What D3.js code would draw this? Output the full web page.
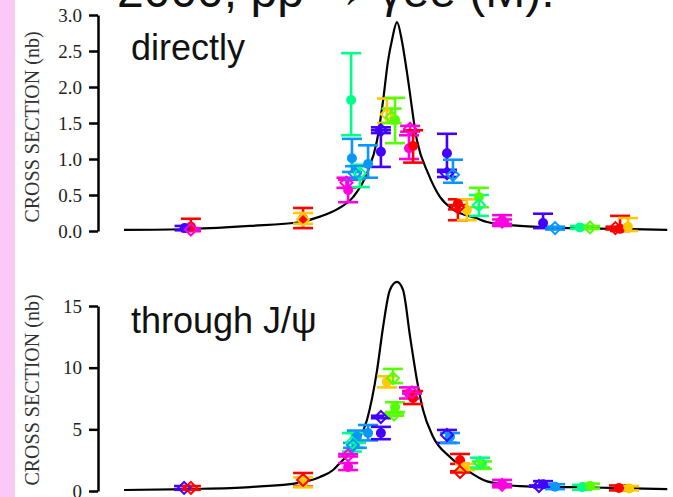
<!DOCTYPE html>
<html>
<head>
<meta charset="utf-8">
<script src="https://cdn.jsdelivr.net/npm/d3@7/dist/d3.min.js"></script>
<style>
  html, body { margin: 0; padding: 0; background: #fff; }
  svg { display: block; }
</style>
</head>
<body>
<svg id="chart" width="673" height="497"></svg>
<script>
// Series colours (one per data set)
const seriesColors = {
  red: "#ff0000",
  amber: "#ffc800",
  lime: "#55ff00",
  spring: "#00ff88",
  azure: "#0a96ff",
  violet: "#4200ff",
  magenta: "#ff00e0"
};

// Fitted resonance curves: [energy offset, cross section (nb)]
const directCurve = [
  [-10, 0.015], [-7.58, 0.028], [-5.38, 0.07], [-3.55, 0.125], [-2.82, 0.2],
  [-2.2, 0.3], [-1.61, 0.47], [-1.1, 0.8], [-0.73, 1.26], [-0.51, 1.81],
  [-0.33, 2.36], [-0.18, 2.66], [0, 2.9], [0.18, 2.64], [0.37, 2.19],
  [0.73, 1.26], [1.14, 0.8], [1.58, 0.47], [2.05, 0.3], [2.9, 0.18],
  [3.3, 0.125], [4.5, 0.07], [6.3, 0.04], [8.2, 0.03], [9.9, 0.015]
];
const jpsiCurve = [
  [-10, 0.08], [-7.58, 0.16], [-5.38, 0.32], [-3.55, 0.68], [-2.82, 1.14],
  [-2.34, 1.7], [-2.09, 2.27], [-1.47, 3.9], [-1.1, 5.76], [-0.73, 9.8],
  [-0.51, 13.3], [-0.26, 16.3], [0, 16.95], [0.22, 16.3], [0.48, 12.5],
  [0.73, 9.0], [0.95, 6.6], [1.32, 4.4], [1.94, 2.76], [2.56, 1.7],
  [3.3, 0.78], [4.5, 0.4], [6.3, 0.32], [8.2, 0.24], [9.9, 0.16]
];

// Measurements: [series, marker, energy offset, value, lower, upper]
const directPoints = [
  ["red", "circle", -7.55, 0.06, 0.0, 0.17],
  ["violet", "circle", -7.78, 0.04, 0.01, 0.07],
  ["magenta", "diamond", -7.55, 0.02, 0.0, 0.04],
  ["red", "circle", -3.44, 0.17, 0.04, 0.32],
  ["amber", "diamond", -3.44, 0.16, 0.10, 0.25],
  ["magenta", "circle", -1.79, 0.57, 0.40, 0.71],
  ["magenta", "diamond", -1.85, 0.67, 0.60, 0.74],
  ["spring", "circle", -1.68, 1.82, 1.33, 2.47],
  ["azure", "circle", -1.65, 1.01, 0.82, 1.28],
  ["spring", "diamond", -1.36, 0.80, 0.61, 0.92],
  ["azure", "diamond", -1.54, 0.80, 0.72, 0.90],
  ["azure", "circle", -1.06, 0.93, 0.74, 1.19],
  ["violet", "circle", -0.59, 1.10, 0.89, 1.40],
  ["violet", "diamond", -0.59, 1.40, 1.36, 1.44],
  ["amber", "diamond", -0.37, 1.62, 1.50, 1.84],
  ["lime", "circle", -0.07, 1.54, 1.22, 1.85],
  ["lime", "diamond", -0.2, 1.58, 1.50, 1.70],
  ["magenta", "circle", 0.44, 1.15, 1.00, 1.33],
  ["magenta", "diamond", 0.48, 1.42, 1.38, 1.46],
  ["red", "circle", 0.59, 1.18, 0.95, 1.40],
  ["violet", "circle", 1.83, 1.08, 0.82, 1.35],
  ["violet", "diamond", 1.83, 0.80, 0.75, 0.85],
  ["azure", "diamond", 2.05, 0.78, 0.67, 0.99],
  ["red", "circle", 2.23, 0.38, 0.15, 0.44],
  ["red", "diamond", 2.23, 0.33, 0.30, 0.36],
  ["amber", "circle", 2.56, 0.29, 0.15, 0.44],
  ["lime", "circle", 3.0, 0.47, 0.33, 0.60],
  ["spring", "diamond", 3.0, 0.36, 0.21, 0.50],
  ["magenta", "circle", 3.85, 0.15, 0.07, 0.22],
  ["magenta", "diamond", 3.85, 0.13, 0.10, 0.16],
  ["violet", "circle", 5.35, 0.11, 0.04, 0.24],
  ["azure", "diamond", 5.79, 0.04, 0.02, 0.06],
  ["spring", "circle", 6.7, 0.05, 0.03, 0.07],
  ["lime", "diamond", 7.07, 0.05, 0.03, 0.07],
  ["red", "circle", 8.17, 0.03, 0.0, 0.21],
  ["red", "diamond", 8.0, 0.04, 0.02, 0.06],
  ["amber", "circle", 8.46, 0.06, 0.0, 0.18]
];
const jpsiPoints = [
  ["violet", "diamond", -7.8, 0.25, 0.1, 0.4],
  ["red", "diamond", -7.55, 0.25, 0.1, 0.4],
  ["red", "diamond", -3.44, 0.9, 0.35, 1.46],
  ["amber", "circle", -3.44, 0.7, 0.3, 1.1],
  ["magenta", "circle", -1.79, 1.95, 1.7, 2.27],
  ["magenta", "diamond", -1.79, 2.9, 2.8, 3.0],
  ["spring", "diamond", -1.65, 3.9, 3.2, 4.7],
  ["azure", "diamond", -1.61, 3.7, 3.5, 3.9],
  ["spring", "circle", -1.5, 4.3, 3.9, 4.7],
  ["azure", "circle", -1.47, 4.4, 3.5, 4.9],
  ["azure", "circle", -1.06, 4.7, 4.1, 5.35],
  ["violet", "diamond", -0.59, 6.0, 5.9, 6.1],
  ["violet", "circle", -0.59, 4.7, 4.2, 5.2],
  ["amber", "circle", -0.37, 8.85, 8.4, 9.3],
  ["lime", "diamond", -0.15, 9.15, 8.75, 9.9],
  ["lime", "circle", -0.07, 6.8, 6.4, 7.2],
  ["lime", "diamond", -0.11, 6.2, 6.1, 6.3],
  ["magenta", "circle", 0.44, 7.9, 7.5, 8.4],
  ["magenta", "diamond", 0.55, 8.0, 7.9, 8.1],
  ["red", "circle", 0.59, 7.55, 7.05, 8.1],
  ["violet", "diamond", 1.83, 4.55, 3.9, 4.95],
  ["azure", "circle", 1.94, 4.4, 3.9, 4.7],
  ["red", "circle", 2.31, 2.5, 2.2, 3.0],
  ["red", "diamond", 2.31, 1.54, 1.5, 1.6],
  ["amber", "circle", 2.49, 1.95, 1.7, 2.2],
  ["spring", "diamond", 3.04, 2.3, 1.9, 2.7],
  ["lime", "circle", 3.11, 2.1, 1.8, 2.4],
  ["magenta", "circle", 3.85, 0.55, 0.3, 0.9],
  ["magenta", "diamond", 3.85, 0.5, 0.45, 0.55],
  ["violet", "circle", 5.35, 0.55, 0.3, 0.8],
  ["violet", "diamond", 5.2, 0.4, 0.35, 0.45],
  ["azure", "circle", 5.79, 0.35, 0.15, 0.55],
  ["spring", "circle", 6.78, 0.3, 0.1, 0.5],
  ["lime", "circle", 7.07, 0.4, 0.2, 0.6],
  ["red", "circle", 8.13, 0.25, 0.05, 0.45],
  ["amber", "circle", 8.5, 0.2, 0.05, 0.4]
];

// Axis ticks
const directTicks = [0, 0.5, 1.0, 1.5, 2.0, 2.5, 3.0];
const jpsiTicks = [0, 5, 10, 15];

const svg = d3.select("#chart");

// Left margin strip
svg.append("rect").attr("x", 0).attr("y", 0).attr("width", 15).attr("height", 497)
  .attr("fill", "#fbc9f6");

// Heading (runs off the top edge)
svg.append("text")
  .attr("x", 117).attr("y", 7)
  .attr("font-family", "Liberation Sans, Arial, sans-serif")
  .attr("font-size", 48)
  .attr("fill", "#111")
  .text("2000, pp → γee (M):");

const x = d3.scaleLinear().domain([-10, 10]).range([124, 670]);

function drawPanel(opts) {
  const y = d3.scaleLinear().domain(opts.domain).range(opts.range);
  const g = svg.append("g");

  const axis = d3.axisLeft(y)
    .tickValues(opts.ticks)
    .tickFormat(opts.format)
    .tickSize(9)
    .tickSizeOuter(0)
    .tickPadding(7);
  const ax = g.append("g").attr("transform", "translate(98,0)").call(axis);
  ax.select(".domain").attr("stroke", "#000").attr("stroke-width", 2.5);
  ax.selectAll(".tick line").attr("stroke", "#000").attr("stroke-width", 2.5);
  ax.selectAll(".tick text")
    .attr("font-family", "Liberation Serif, Times New Roman, serif")
    .attr("font-size", 19)
    .attr("fill", "#222");

  g.append("text")
    .attr("transform", `translate(39,${opts.labelY}) rotate(-90)`)
    .attr("text-anchor", "middle")
    .attr("font-family", "Liberation Serif, Times New Roman, serif")
    .attr("font-size", 20)
    .attr("fill", "#333")
    .text("CROSS SECTION (nb)");

  g.append("text")
    .attr("x", 131).attr("y", opts.titleY)
    .attr("font-family", "Liberation Sans, Arial, sans-serif")
    .attr("font-size", 36)
    .attr("fill", "#111")
    .text(opts.title);

  // Fitted curve
  const line = d3.line().x(d => x(d[0])).y(d => y(d[1])).curve(d3.curveMonotoneX);
  g.append("path").datum(opts.curve)
    .attr("d", line)
    .attr("fill", "none")
    .attr("stroke", "#000")
    .attr("stroke-width", 2.2);

  // Error bars
  const capHalf = 10;
  const bars = g.append("g").selectAll("g").data(opts.points).join("g")
    .attr("stroke", d => seriesColors[d[0]])
    .attr("stroke-width", 2.6)
    .attr("fill", "none");
  bars.append("line")
    .attr("x1", d => x(d[2])).attr("x2", d => x(d[2]))
    .attr("y1", d => y(d[4])).attr("y2", d => y(d[5]));
  bars.append("line")
    .attr("x1", d => x(d[2]) - capHalf).attr("x2", d => x(d[2]) + capHalf)
    .attr("y1", d => y(d[4])).attr("y2", d => y(d[4]));
  bars.append("line")
    .attr("x1", d => x(d[2]) - capHalf).attr("x2", d => x(d[2]) + capHalf)
    .attr("y1", d => y(d[5])).attr("y2", d => y(d[5]));

  // Markers
  const marks = g.append("g");
  marks.selectAll("circle").data(opts.points.filter(d => d[1] === "circle")).join("circle")
    .attr("cx", d => x(d[2])).attr("cy", d => y(d[3]))
    .attr("r", 5)
    .attr("fill", d => seriesColors[d[0]]);
  marks.selectAll("path").data(opts.points.filter(d => d[1] === "diamond")).join("path")
    .attr("d", d => {
      const cx = x(d[2]), cy = y(d[3]), s = 6;
      return `M${cx},${cy - s}L${cx + s},${cy}L${cx},${cy + s}L${cx - s},${cy}Z`;
    })
    .attr("fill", "none")
    .attr("stroke", d => seriesColors[d[0]])
    .attr("stroke-width", 2);
}

drawPanel({
  domain: [0, 3], range: [231, 15], ticks: directTicks, format: d3.format(".1f"),
  labelY: 127, title: "directly", titleY: 60,
  curve: directCurve, points: directPoints
});
drawPanel({
  domain: [0, 15], range: [491, 306], ticks: jpsiTicks, format: d3.format("d"),
  labelY: 390, title: "through J/ψ", titleY: 333,
  curve: jpsiCurve, points: jpsiPoints
});
</script>
</body>
</html>
